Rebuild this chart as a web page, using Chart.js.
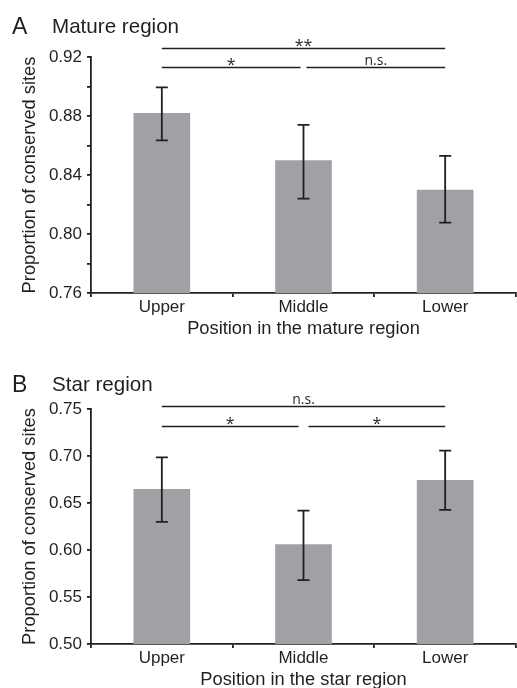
<!DOCTYPE html>
<html><head><meta charset="utf-8">
<script src="https://cdn.jsdelivr.net/npm/chart.js@4.4.1/dist/chart.umd.min.js"></script>
<style>
html,body{margin:0;padding:0;background:#fff;overflow:hidden;width:517px;height:688px}
.panel{position:absolute;left:0;width:517px}
#pa{top:0;height:340px}
#pb{top:340px;height:348px}
</style></head>
<body>
<div class="panel" id="pa"><canvas id="ca"></canvas></div>
<div class="panel" id="pb"><canvas id="cb"></canvas></div>
<script>
// ---- data ----
const categories = ['Upper', 'Middle', 'Lower'];

const matureMeans = [0.882, 0.850, 0.830];
const matureErrLow = [0.8635, 0.824, 0.8077];
const matureErrHigh = [0.8994, 0.874, 0.853];
const matureYTicks = [0.76, 0.78, 0.80, 0.82, 0.84, 0.86, 0.88, 0.90, 0.92];
const matureYLabels = ['0.76', '', '0.80', '', '0.84', '', '0.88', '', '0.92'];
const matureSigFrom = [0, 0, 1];
const matureSigTo = [2, 1, 2];
const matureSigLevel = [0.926, 0.913, 0.913];
const matureSigText = ['**', '*', 'n.s.'];

const starMeans = [0.665, 0.606, 0.6745];
const starErrLow = [0.630, 0.568, 0.6426];
const starErrHigh = [0.6986, 0.6418, 0.7057];
const starYTicks = [0.50, 0.55, 0.60, 0.65, 0.70, 0.75];
const starYLabels = ['0.50', '0.55', '0.60', '0.65', '0.70', '0.75'];
const starSigFrom = [0, 0, 1];
const starSigTo = [2, 1, 2];
const starSigLevel = [0.7535, 0.7322, 0.7322];
const starSigText = ['n.s.', '*', '*'];

// ---- styling ----
const INK = '#231f20';
const BAR = '#a0a1a4';
const SANS = "'Liberation Sans', Arial, sans-serif";

const decoPlugin = {
  id: 'deco',
  afterDatasetsDraw(chart, args, o) {
    const ctx = chart.ctx;
    const ys = chart.scales.y;
    const meta = chart.getDatasetMeta(0);
    ctx.save();
    ctx.strokeStyle = INK;
    ctx.lineWidth = 1.8;
    meta.data.forEach((bar, i) => {
      const x = bar.x;
      const yl = ys.getPixelForValue(o.low[i]);
      const yh = ys.getPixelForValue(o.high[i]);
      ctx.beginPath();
      ctx.moveTo(x, yl); ctx.lineTo(x, yh);
      ctx.moveTo(x - 6, yl); ctx.lineTo(x + 6, yl);
      ctx.moveTo(x - 6, yh); ctx.lineTo(x + 6, yh);
      ctx.stroke();
    });
    ctx.restore();
  },
  afterDraw(chart, args, o) {
    const ctx = chart.ctx;
    const ys = chart.scales.y;
    const meta = chart.getDatasetMeta(0);
    ctx.save();
    ctx.strokeStyle = INK;
    ctx.fillStyle = INK;
    ctx.lineWidth = 1.5;
    ctx.textAlign = 'center';
    ctx.textBaseline = 'alphabetic';
    for (let k = 0; k < o.sigFrom.length; k++) {
      const f = o.sigFrom[k], t = o.sigTo[k];
      let x1 = meta.data[f].x, x2 = meta.data[t].x;
      if (f === 1) x1 += o.gap;
      if (t === 1) x2 -= o.gap;
      const y = Math.round(ys.getPixelForValue(o.sigLevel[k])) + 0.5;
      ctx.beginPath();
      ctx.moveTo(x1, y); ctx.lineTo(x2, y);
      ctx.stroke();
      const txt = o.sigText[k];
      const star = txt.indexOf('*') >= 0;
      ctx.font = (star ? "16px" : "14px") + " 'Open Sans', sans-serif";
      ctx.fillText(txt, (x1 + x2) / 2, star ? y + 2 : y - 3);
    }
    ctx.textAlign = 'left';
    ctx.font = "23px " + SANS;
    ctx.fillText(o.letter, 12, o.titleBase + 1);
    ctx.font = "20.6px " + SANS;
    ctx.fillText(o.title, 52, o.titleBase);
    ctx.restore();
  }
};

function makeChart(id, cfg) {
  return new Chart(document.getElementById(id), {
    type: 'bar',
    data: {
      labels: categories,
      datasets: [{
        data: cfg.means,
        backgroundColor: BAR,
        borderWidth: 0,
        barPercentage: 0.4,
        categoryPercentage: 1.0
      }]
    },
    plugins: [decoPlugin],
    options: {
      responsive: true,
      maintainAspectRatio: false,
      animation: false,
      devicePixelRatio: 1,
      layout: { padding: { top: cfg.top, left: 15, right: 1, bottom: 0 } },
      plugins: {
        legend: { display: false },
        tooltip: { enabled: false },
        deco: {
          low: cfg.low, high: cfg.high,
          sigFrom: cfg.sigFrom, sigTo: cfg.sigTo, sigLevel: cfg.sigLevel, sigText: cfg.sigText,
          gap: cfg.gap, letter: cfg.letter, title: cfg.title, titleBase: cfg.titleBase
        }
      },
      scales: {
        x: {
          type: 'category',
          offset: true,
          z: 1,
          grid: { display: true, offset: true, drawOnChartArea: false, drawTicks: true, tickLength: 4, color: INK, lineWidth: 1.8 },
          border: { display: true, color: INK, width: 1.8 },
          ticks: { color: INK, font: { family: SANS, size: 17 }, padding: 0, maxRotation: 0 },
          title: { display: true, text: cfg.xTitle, color: INK, font: { family: SANS, size: 18.3 }, padding: { top: 0, bottom: cfg.xTitlePad } },
          afterFit(s) { s.height = cfg.xHeight; }
        },
        y: {
          type: 'linear',
          beginAtZero: false,
          min: cfg.yTicks[0],
          max: cfg.yTicks[cfg.yTicks.length - 1],
          afterBuildTicks(s) { s.ticks = cfg.yTicks.map(v => ({ value: v })); },
          grid: { display: true, drawOnChartArea: false, drawTicks: true, tickLength: 4, color: INK, lineWidth: 1.8 },
          border: { display: true, color: INK, width: 1.8 },
          ticks: {
            color: INK, font: { family: SANS, size: 17 }, padding: 5,
            callback: (v, i) => cfg.yLabels[i]
          },
          title: { display: true, text: 'Proportion of conserved sites', color: INK, font: { family: SANS, size: 18.3 }, padding: { top: 3.5, bottom: 0 } },
          afterFit(s) { s.width = 76; }
        }
      }
    }
  });
}

makeChart('ca', {
  means: matureMeans, low: matureErrLow, high: matureErrHigh,
  yTicks: matureYTicks, yLabels: matureYLabels,
  sigFrom: matureSigFrom, sigTo: matureSigTo, sigLevel: matureSigLevel, sigText: matureSigText,
  gap: 3, letter: 'A', title: 'Mature region', titleBase: 33,
  xTitle: 'Position in the mature region', top: 57, xHeight: 47, xTitlePad: 0.5
});

makeChart('cb', {
  means: starMeans, low: starErrLow, high: starErrHigh,
  yTicks: starYTicks, yLabels: starYLabels,
  sigFrom: starSigFrom, sigTo: starSigTo, sigLevel: starSigLevel, sigText: starSigText,
  gap: 5, letter: 'B', title: 'Star region', titleBase: 51,
  xTitle: 'Position in the star region', top: 69, xHeight: 44, xTitlePad: -3
});
</script>
</body></html>
